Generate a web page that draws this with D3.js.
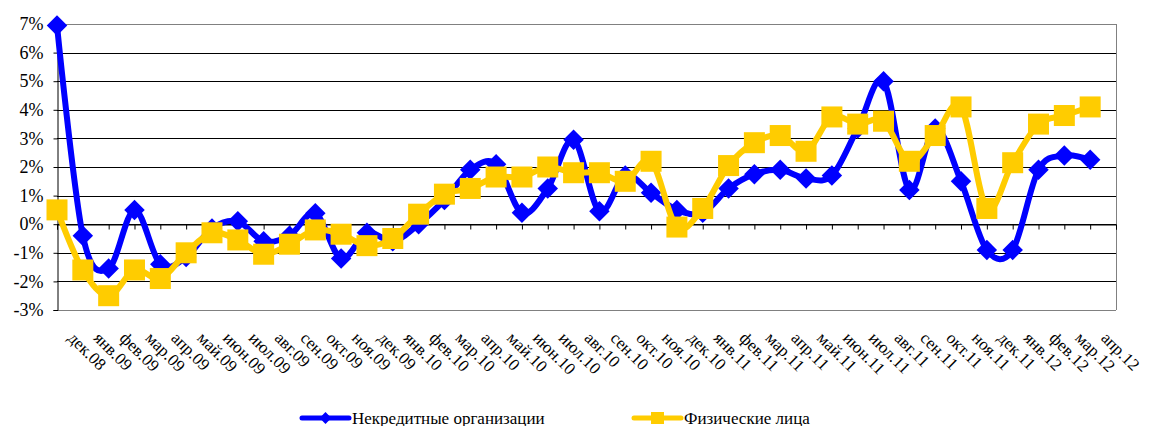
<!DOCTYPE html>
<html>
<head>
<meta charset="utf-8">
<script src="https://cdn.jsdelivr.net/npm/d3@7"></script>
<style>
  html, body { margin: 0; padding: 0; background: #fff; }
  svg { display: block; }
  svg text { font-family: "Liberation Serif", "DejaVu Serif", "Times New Roman", serif !important; fill: #000; }
</style>
</head>
<body>
<svg id="chart" width="1149" height="426"></svg>
<script>
// Monthly category labels
const months = [
  "дек.08",
  "янв.09","фев.09","мар.09","апр.09","май.09","июн.09","июл.09","авг.09","сен.09","окт.09","ноя.09","дек.09",
  "янв.10","фев.10","мар.10","апр.10","май.10","июн.10","июл.10","авг.10","сен.10","окт.10","ноя.10","дек.10",
  "янв.11","фев.11","мар.11","апр.11","май.11","июн.11","июл.11","авг.11","сен.11","окт.11","ноя.11","дек.11",
  "янв.12","фев.12","мар.12","апр.12"
];

// Growth rates, %
const nonCredit = [
  6.95, -0.4, -1.55, 0.5, -1.4, -1.15, -0.15, 0.1, -0.6, -0.4, 0.38, -1.2, -0.3,
  -0.6, 0.0, 0.85, 1.9, 2.1, 0.4, 1.25, 2.95, 0.45, 1.7, 1.1, 0.5,
  0.4, 1.25, 1.75, 1.9, 1.6, 1.7, 3.35, 5.0, 1.2, 3.35, 1.5, -0.9,
  -0.9, 1.9, 2.4, 2.25
];
const individuals = [
  0.5, -1.6, -2.5, -1.6, -1.9, -1.0, -0.3, -0.55, -1.05, -0.7, -0.2, -0.35, -0.75,
  -0.5, 0.35, 1.05, 1.25, 1.65, 1.65, 2.0, 1.8, 1.8, 1.5, 2.2, -0.1,
  0.55, 2.05, 2.85, 3.1, 2.55, 3.75, 3.5, 3.6, 2.2, 3.1, 4.1, 0.55,
  2.15, 3.5, 3.8, 4.1
];

const yTicks = [-3, -2, -1, 0, 1, 2, 3, 4, 5, 6, 7];

const seriesNames = ["Некредитные организации", "Физические лица"];
const blue = "#0000FF", gold = "#FFCC00";
const serif = "'Liberation Serif', 'DejaVu Serif', 'Times New Roman', serif";

const svg = d3.select("#chart").style("font-family", serif);
const plot = { left: 57, right: 1116, top: 24, bottom: 310 };

// One extra slot after the last month keeps the right margin inside the frame
const x = d3.scaleLinear().domain([0, months.length]).range([plot.left, plot.right]);
const y = d3.scaleLinear().domain([-3, 7]).range([plot.bottom, plot.top]);

// Horizontal gridlines
svg.append("g").selectAll("line").data(yTicks).join("line")
  .attr("x1", plot.left).attr("x2", plot.right)
  .attr("y1", d => Math.round(y(d)) + 0.5).attr("y2", d => Math.round(y(d)) + 0.5)
  .attr("stroke", d => (d === -3 || d === 7) ? "#808080" : "#000")
  .attr("stroke-width", 1);

// Plot frame right side
svg.append("line")
  .attr("x1", plot.right + 0.5).attr("x2", plot.right + 0.5)
  .attr("y1", plot.top).attr("y2", plot.bottom)
  .attr("stroke", "#808080");

// Y axis
const yAxis = d3.axisLeft(y).tickValues(yTicks).tickSize(4).tickFormat(d => d + "%");
const gy = svg.append("g").attr("transform", `translate(${plot.left + 0.5},0)`).call(yAxis);
gy.attr("font-family", serif);
gy.select(".domain").attr("stroke", "#000");
gy.selectAll(".tick line").attr("stroke", "#000");
gy.selectAll(".tick text").attr("font-size", 18).attr("x", -14).style("font-family", serif);

// Category axis along zero with tick marks
const idx = d3.range(months.length + 1);
const xAxis = d3.axisBottom(x).tickValues(idx).tickSize(5).tickFormat("");
const gx = svg.append("g").attr("transform", `translate(0,${Math.round(y(0)) + 0.5})`).call(xAxis);
gx.select(".domain").attr("stroke", "#000");
gx.selectAll(".tick line").attr("stroke", "#000");

// Rotated month labels below the plot
svg.append("g").selectAll("text").data(months).join("text")
  .attr("transform", (d, i) => `translate(${x(i) + 10},${plot.bottom + 29}) rotate(45)`)
  .attr("font-size", 17)
  .attr("text-anchor", "start")
  .style("font-family", serif)
  .text(d => d);

// Smoothed series lines
const line = d3.line().x((d, i) => x(i)).y(d => y(d)).curve(d3.curveCatmullRom.alpha(0));

svg.append("path").datum(nonCredit)
  .attr("d", line).attr("fill", "none").attr("stroke", blue).attr("stroke-width", 6)
  .attr("stroke-linejoin", "round");

const diamond = d3.symbol().type(d3.symbolSquare).size(210);
svg.append("g").selectAll("path").data(nonCredit).join("path")
  .attr("d", diamond)
  .attr("transform", (d, i) => `translate(${x(i)},${y(d)}) rotate(45)`)
  .attr("fill", blue);

svg.append("path").datum(individuals)
  .attr("d", line).attr("fill", "none").attr("stroke", gold).attr("stroke-width", 6)
  .attr("stroke-linejoin", "round");

svg.append("g").selectAll("rect").data(individuals).join("rect")
  .attr("x", (d, i) => x(i) - 10.5).attr("y", d => y(d) - 10.5)
  .attr("width", 21).attr("height", 21)
  .attr("fill", gold);

// Legend
const legend = [
  { name: seriesNames[0], color: blue, x0: 302, shape: "diamond" },
  { name: seriesNames[1], color: gold, x0: 634, shape: "square" }
];
const ly = 418;
const lg = svg.append("g");
legend.forEach(l => {
  lg.append("line").attr("x1", l.x0).attr("x2", l.x0 + 47).attr("y1", ly).attr("y2", ly)
    .attr("stroke", l.color).attr("stroke-width", 5).attr("stroke-linecap", "round");
  if (l.shape === "diamond") {
    lg.append("path").attr("d", d3.symbol().type(d3.symbolSquare).size(70)())
      .attr("transform", `translate(${l.x0 + 23.5},${ly}) rotate(45)`).attr("fill", l.color);
  } else {
    lg.append("rect").attr("x", l.x0 + 17).attr("y", ly - 6).attr("width", 13).attr("height", 12)
      .attr("fill", l.color);
  }
  lg.append("text").attr("x", l.x0 + 50).attr("y", ly + 5.5).attr("font-size", 17)
    .style("font-family", serif).text(l.name);
});
</script>
</body>
</html>
